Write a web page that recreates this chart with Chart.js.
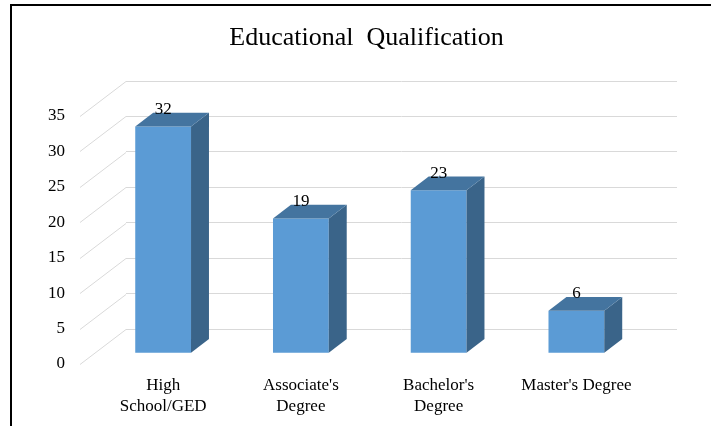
<!DOCTYPE html>
<html>
<head>
<meta charset="utf-8">
<title>Educational Qualification</title>
<script src="https://cdn.jsdelivr.net/npm/chart.js@4.4.1/dist/chart.umd.min.js"></script>
<style>
  html, body { margin: 0; padding: 0; background: #fff; overflow: hidden; }
  #wrap { position: relative; width: 711px; height: 426px; }
  #eduChart { position: absolute; left: 0; top: 0; }
  /* the picture is a crop of a framed chart: only left and top edges show */
  #frame { position: absolute; left: 10px; top: 4px; width: 720px; height: 440px;
           border-left: 2px solid #000; border-top: 2px solid #000; pointer-events: none; }
</style>
</head>
<body>
<div id="wrap">
  <canvas id="eduChart" width="711" height="426"></canvas>
  <div id="frame"></div>
</div>
<script>
const categories = [["High", "School/GED"], ["Associate's", "Degree"], ["Bachelor's", "Degree"], "Master's Degree"];
const counts = [32, 19, 23, 6];
const yTicks = [0, 5, 10, 15, 20, 25, 30, 35];

const SERIF = "'Liberation Serif', 'Times New Roman', serif";

// oblique depth of the floor (front edge -> back wall)
const DEPTH_X = 46;
const DEPTH_Y = 35;
const BAR_POS = 0.69;   // where the bar front sits between front edge and wall
const BAR_DEPTH = 0.39; // thickness of the bars, as a share of floor depth

const pseudo3d = {
    id: "pseudo3d",
    beforeDatasetsDraw(chart) {
        const ctx = chart.ctx;
        const y = chart.scales.y;
        const left = chart.chartArea.left;

        // side-wall diagonals from each back gridline to the front labels
        ctx.save();
        ctx.strokeStyle = "#d9d9d9";
        ctx.lineWidth = 1;
        y.ticks.forEach(t => {
            const py = Math.round(y.getPixelForValue(t.value)) + 0.5;
            ctx.beginPath();
            ctx.moveTo(left, py);
            ctx.lineTo(left - DEPTH_X, py + DEPTH_Y);
            ctx.stroke();
        });
        ctx.restore();

        // bars stand in front of the back wall
        ctx.save();
        ctx.translate(-DEPTH_X * BAR_POS, DEPTH_Y * BAR_POS);
    },
    afterDatasetsDraw(chart) {
        const ctx = chart.ctx;
        const dx = DEPTH_X * BAR_DEPTH;
        const dy = DEPTH_Y * BAR_DEPTH;
        const meta = chart.getDatasetMeta(0);

        meta.data.forEach((bar, i) => {
            const l = bar.x - bar.width / 2;
            const r = bar.x + bar.width / 2;

            // right side face
            ctx.fillStyle = "#3a6489";
            ctx.beginPath();
            ctx.moveTo(r, bar.y);
            ctx.lineTo(r + dx, bar.y - dy);
            ctx.lineTo(r + dx, bar.base - dy);
            ctx.lineTo(r, bar.base);
            ctx.closePath();
            ctx.fill();

            // top face
            ctx.fillStyle = "#44749f";
            ctx.beginPath();
            ctx.moveTo(l, bar.y);
            ctx.lineTo(l + dx, bar.y - dy);
            ctx.lineTo(r + dx, bar.y - dy);
            ctx.lineTo(r, bar.y);
            ctx.closePath();
            ctx.fill();

            // value label
            ctx.fillStyle = "#000";
            ctx.font = "17px " + SERIF;
            ctx.textAlign = "center";
            ctx.textBaseline = "middle";
            ctx.fillText(String(counts[i]), bar.x, bar.y - 17);
        });

        ctx.restore();
    }
};

new Chart(document.getElementById("eduChart"), {
    type: "bar",
    data: {
        labels: categories,
        datasets: [{
            data: counts,
            backgroundColor: "#5b9bd5",
            borderWidth: 0,
            barPercentage: 1,
            categoryPercentage: 0.405
        }]
    },
    options: {
        responsive: false,
        animation: false,
        events: [],
        layout: { padding: { left: 22, right: 0, top: 0, bottom: 0 } },
        plugins: {
            legend: { display: false },
            tooltip: { enabled: false },
            title: {
                display: true,
                text: "Educational  Qualification",
                color: "#000",
                font: { family: SERIF, size: 26, weight: "normal", lineHeight: 1.2 },
                padding: { top: 23, bottom: 26.8 }
            }
        },
        scales: {
            x: {
                grid: { display: false, drawTicks: false },
                border: { display: false },
                ticks: {
                    color: "#000",
                    font: { family: SERIF, size: 17, lineHeight: 1.24 },
                    labelOffset: -DEPTH_X * BAR_POS,
                    padding: 46,
                    maxRotation: 0,
                    autoSkip: false
                },
                afterFit(scale) {
                    scale.height = 97;
                    // labels are shifted left, they never overflow the plot
                    scale.paddingLeft = 0;
                    scale.paddingRight = 0;
                }
            },
            y: {
                min: 0,
                max: 35,
                afterBuildTicks(scale) { scale.ticks = yTicks.map(v => ({ value: v })); },
                grid: { color: "#d9d9d9", lineWidth: 1, drawTicks: false },
                border: { display: false },
                ticks: {
                    color: "#000",
                    font: { family: SERIF, size: 17 },
                    labelOffset: DEPTH_Y,
                    padding: 61
                },
                afterFit(scale) { scale.width = 104; }
            },
            // empty right-hand margin so the back wall ends where the original does
            yRight: {
                position: "right",
                grid: { display: false, drawTicks: false },
                border: { display: false },
                ticks: { display: false },
                afterFit(scale) { scale.width = 34; }
            }
        }
    },
    plugins: [pseudo3d]
});
</script>
</body>
</html>
